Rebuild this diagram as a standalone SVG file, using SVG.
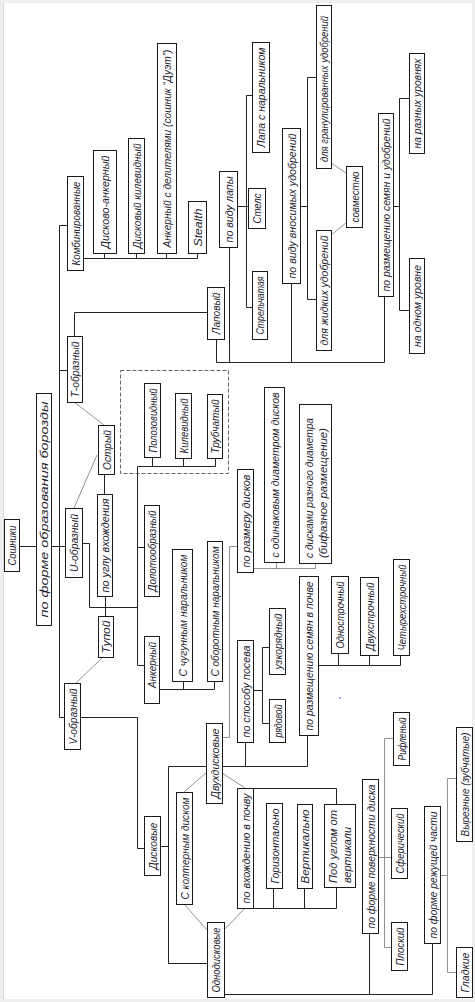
<svg xmlns="http://www.w3.org/2000/svg" width="475" height="1002" viewBox="0 0 475 1002">
<style>
.b{fill:#fff;stroke:#1a1a1a;stroke-width:1}
.t{font-family:"Liberation Sans",Arial,sans-serif;font-style:italic;font-size:10.5px;fill:#1c1c2c;text-anchor:middle;dominant-baseline:central}
.s{font-family:"Liberation Sans",Arial,sans-serif;font-style:italic;font-size:10.5px;fill:#1c1c2c;text-anchor:start;dominant-baseline:central}
.c{fill:none;stroke:#222;stroke-width:1}
.g{fill:none;stroke:#777;stroke-width:0.8}
.d{fill:none;stroke:#666;stroke-width:1;stroke-dasharray:4 2}
</style>
<rect x="0" y="0" width="475" height="1002" fill="#efefef"/>
<rect x="3" y="3" width="469" height="996" fill="#fff"/>
<line x1="3.5" y1="3" x2="3.5" y2="999" stroke="#d8d8d8"/>
<g id="connectors">
<path class="c" d="M19.5 546.5H36M51 546.5H65"/>
<path class="c" d="M59.5 225.5V717.5M59.5 225.5H67M59.5 370.5H67M59.5 717.5H64M80 717.5H137.5V848.5H144"/>
<path class="c" d="M83 258.5H197.5M104.5 253V258.5M136.5 253V258.5M166.5 253V258.5M197.5 253V258.5"/>
<path class="c" d="M74.5 336V312.5H207"/>
<path class="c" d="M216.5 339V362.5H384.5V296M229.5 247V362.5M291.5 283V362.5"/>
<path class="c" d="M237 206.5H248M246.5 95.5V307.5M246.5 95.5H252M246.5 307.5H252"/>
<path class="c" d="M300 206.5H307.5M307.5 77.5V299.5M307.5 77.5H316M307.5 299.5H316"/>
<path class="g" d="M331 163L346 173M331 235L346 223"/>
<path class="c" d="M393 206.5H399.5M399.5 98.5V310.5M399.5 98.5H409M399.5 310.5H409"/>
<path class="g" d="M74 402L104 425M97 455L74 508M103 657L76 683"/>
<path class="c" d="M104.5 474V494M105.5 596V616"/>
<path class="c" d="M82 543.5H89.5V607.5H137.5"/>
<path class="c" d="M137.5 466.5V665.5M137.5 547.5H144M137.5 665.5H144"/>
<path class="c" d="M137.5 466.5H215.5M152.5 457V466.5M183.5 458V466.5M215.5 458V466.5"/>
<path class="c" d="M159 689.5H214.5M183.5 681V689.5M214.5 681V689.5"/>
<path class="c" d="M160 846.5H168.5M168.5 766.5V963.5M168.5 766.5H206M222 766.5H307.5M245.5 742V766.5M307.5 735V766.5M168.5 963.5H207"/>
<path class="g" d="M222 737.5H229.5V546.5H237"/>
<path class="g" d="M253 568.5H315.5M276.5 562V568.5M315.5 563V568.5"/>
<path class="c" d="M253 690.5H262.5M262.5 647.5V723.5M262.5 647.5H269M262.5 723.5H269"/>
<path class="c" d="M318 665.5H400.5M338.5 653V665.5M369.5 655V665.5M400.5 655V665.5"/>
<path class="g" d="M184 792L206 773M184 904L207 930M222 773L245 788M224 930L245 908"/>
<path class="c" d="M253 788.5H336.5V804M253 908.5H336.5V887M273.5 888V908.5M304.5 888V908.5"/>
<path class="c" d="M224 994.5H432.5M369.5 933V994.5M432.5 943V994.5"/>
<path class="g" d="M378 857.5H391M384.5 738.5V947.5M384.5 738.5H393M384.5 947.5H391"/>
<path class="g" d="M440 875.5H447.5M447.5 778.5V972.5M447.5 778.5H456M447.5 972.5H456"/>
<rect class="d" x="120.5" y="370.5" width="108" height="103"/>
<circle cx="340" cy="698" r="0.8" fill="#33f"/>
</g>
<g id="n1"><rect class="b" x="4.5" y="519.5" width="15" height="52"/><text class="t" x="12" y="545.5" transform="rotate(-90 12 545.5)" textLength="40" lengthAdjust="spacingAndGlyphs">Сошники</text></g>
<g id="n2"><rect class="b" x="36.5" y="393.5" width="15" height="232"/><text class="t" x="44" y="509.5" transform="rotate(-90 44 509.5)" textLength="216" lengthAdjust="spacingAndGlyphs">по форме образования борозды</text></g>
<g id="n3"><rect class="b" x="67.5" y="176.5" width="16" height="94"/><text class="t" x="75.5" y="223.5" transform="rotate(-90 75.5 223.5)" textLength="84" lengthAdjust="spacingAndGlyphs">Комбинированные</text></g>
<g id="n4"><rect class="b" x="67.5" y="336.5" width="15" height="66"/><text class="t" x="75" y="369.5" transform="rotate(-90 75 369.5)" textLength="56" lengthAdjust="spacingAndGlyphs">Т-образный</text></g>
<g id="n5"><rect class="b" x="65.5" y="508.5" width="17" height="69"/><text class="t" x="74" y="543" transform="rotate(-90 74 543)" textLength="58" lengthAdjust="spacingAndGlyphs">U-образный</text></g>
<g id="n6"><rect class="b" x="64.5" y="683.5" width="16" height="66"/><text class="t" x="72.5" y="716.5" transform="rotate(-90 72.5 716.5)" textLength="56" lengthAdjust="spacingAndGlyphs">V-образный</text></g>
<g id="n7"><rect class="b" x="93.5" y="150.5" width="23" height="103"/><text class="t" x="105" y="202" transform="rotate(-90 105 202)" textLength="93" lengthAdjust="spacingAndGlyphs">Дисково-анкерный</text></g>
<g id="n8"><rect class="b" x="128.5" y="138.5" width="16" height="115"/><text class="t" x="136.5" y="196" transform="rotate(-90 136.5 196)" textLength="105" lengthAdjust="spacingAndGlyphs">Дисковый килевидный</text></g>
<g id="n9"><rect class="b" x="157.5" y="43.5" width="19" height="210"/><text class="t" x="167" y="148.5" transform="rotate(-90 167 148.5)" textLength="198" lengthAdjust="spacingAndGlyphs">Анкерный с делителями (сошник “Дуэт”)</text></g>
<g id="n10"><rect class="b" x="188.5" y="201.5" width="18" height="52"/><text class="t" x="197.5" y="227.5" transform="rotate(-90 197.5 227.5)" textLength="38" lengthAdjust="spacingAndGlyphs">Stealth</text></g>
<g id="n11"><rect class="b" x="98.5" y="425.5" width="16" height="49"/><text class="t" x="106.5" y="450" transform="rotate(-90 106.5 450)" textLength="40" lengthAdjust="spacingAndGlyphs">Острый</text></g>
<g id="n12"><rect class="b" x="97.5" y="494.5" width="15" height="102"/><text class="t" x="105" y="545.5" transform="rotate(-90 105 545.5)" textLength="94" lengthAdjust="spacingAndGlyphs">по углу вхождения</text></g>
<g id="n13"><rect class="b" x="98.5" y="616.5" width="15" height="41"/><text class="t" x="106" y="637" transform="rotate(-90 106 637)" textLength="33" lengthAdjust="spacingAndGlyphs">Тупой</text></g>
<g id="n14"><rect class="b" x="144.5" y="505.5" width="15" height="91"/><text class="t" x="152" y="551" transform="rotate(-90 152 551)" textLength="81" lengthAdjust="spacingAndGlyphs">Долотообразный</text></g>
<g id="n15"><rect class="b" x="144.5" y="636.5" width="15" height="67"/><text class="t" x="152" y="665" transform="rotate(-90 152 665)" textLength="46" lengthAdjust="spacingAndGlyphs">Анкерный</text></g>
<g id="n16"><rect class="b" x="172.5" y="549.5" width="20" height="132"/><text class="t" x="182.5" y="615.5" transform="rotate(-90 182.5 615.5)" textLength="122" lengthAdjust="spacingAndGlyphs">С чугунным наральником</text></g>
<g id="n17"><rect class="b" x="207.5" y="541.5" width="15" height="140"/><text class="t" x="215" y="611.5" transform="rotate(-90 215 611.5)" textLength="130" lengthAdjust="spacingAndGlyphs">С оборотным наральником</text></g>
<g id="n18"><rect class="b" x="144.5" y="816.5" width="16" height="59"/><text class="t" x="152.5" y="846" transform="rotate(-90 152.5 846)" textLength="47" lengthAdjust="spacingAndGlyphs">Дисковые</text></g>
<g id="n19"><rect class="b" x="144.5" y="383.5" width="16" height="74"/><text class="t" x="152.5" y="420.5" transform="rotate(-90 152.5 420.5)" textLength="64" lengthAdjust="spacingAndGlyphs">Полозовидный</text></g>
<g id="n20"><rect class="b" x="175.5" y="393.5" width="16" height="65"/><text class="t" x="183.5" y="426" transform="rotate(-90 183.5 426)" textLength="55" lengthAdjust="spacingAndGlyphs">Килевидный</text></g>
<g id="n21"><rect class="b" x="207.5" y="394.5" width="15" height="64"/><text class="t" x="215" y="426.5" transform="rotate(-90 215 426.5)" textLength="54" lengthAdjust="spacingAndGlyphs">Трубчатый</text></g>
<g id="n23"><rect class="b" x="207.5" y="287.5" width="17" height="52"/><text class="t" x="216" y="313.5" transform="rotate(-90 216 313.5)" textLength="42" lengthAdjust="spacingAndGlyphs">Лаповый</text></g>
<g id="n24"><rect class="b" x="219.5" y="171.5" width="18" height="76"/><text class="t" x="228.5" y="209.5" transform="rotate(-90 228.5 209.5)" textLength="66" lengthAdjust="spacingAndGlyphs">по виду лапы</text></g>
<g id="n25"><rect class="b" x="252.5" y="42.5" width="17" height="110"/><text class="t" x="261" y="97.5" transform="rotate(-90 261 97.5)" textLength="100" lengthAdjust="spacingAndGlyphs">Лапа с наральником</text></g>
<g id="n26"><rect class="b" x="248.5" y="188.5" width="17" height="40"/><text class="t" x="257" y="208.5" transform="rotate(-90 257 208.5)" textLength="30" lengthAdjust="spacingAndGlyphs">Стелс</text></g>
<g id="n27"><rect class="b" x="252.5" y="271.5" width="15" height="68"/><text class="t" x="260" y="305.5" transform="rotate(-90 260 305.5)" textLength="58" lengthAdjust="spacingAndGlyphs">Стрельчатая</text></g>
<g id="n28"><rect class="b" x="282.5" y="128.5" width="18" height="155"/><text class="t" x="291.5" y="206" transform="rotate(-90 291.5 206)" textLength="145" lengthAdjust="spacingAndGlyphs">по виду вносимых удобрений</text></g>
<g id="n29"><rect class="b" x="316.5" y="5.5" width="15" height="163"/><text class="t" x="324" y="89" transform="rotate(-90 324 89)" textLength="146" lengthAdjust="spacingAndGlyphs">для гранулированных удобрений</text></g>
<g id="n30"><rect class="b" x="316.5" y="230.5" width="15" height="120"/><text class="t" x="324" y="290.5" transform="rotate(-90 324 290.5)" textLength="110" lengthAdjust="spacingAndGlyphs">для жидких удобрений</text></g>
<g id="n31"><rect class="b" x="346.5" y="166.5" width="16" height="61"/><text class="t" x="354.5" y="197" transform="rotate(-90 354.5 197)" textLength="51" lengthAdjust="spacingAndGlyphs">совместно</text></g>
<g id="n32"><rect class="b" x="378.5" y="113.5" width="15" height="183"/><text class="t" x="386" y="205" transform="rotate(-90 386 205)" textLength="173" lengthAdjust="spacingAndGlyphs">по размещению семян и удобрений</text></g>
<g id="n33"><rect class="b" x="409.5" y="53.5" width="15" height="100"/><text class="t" x="417" y="103.5" transform="rotate(-90 417 103.5)" textLength="90" lengthAdjust="spacingAndGlyphs">на разных уровнях</text></g>
<g id="n34"><rect class="b" x="409.5" y="258.5" width="15" height="95"/><text class="t" x="417" y="306" transform="rotate(-90 417 306)" textLength="82" lengthAdjust="spacingAndGlyphs">на одном уровне</text></g>
<g id="n35"><rect class="b" x="237.5" y="469.5" width="16" height="103"/><text class="t" x="245.5" y="521" transform="rotate(-90 245.5 521)" textLength="93" lengthAdjust="spacingAndGlyphs">по размеру дисков</text></g>
<g id="n36"><rect class="b" x="264.5" y="387.5" width="20" height="175"/><text class="t" x="274.5" y="475" transform="rotate(-90 274.5 475)" textLength="165" lengthAdjust="spacingAndGlyphs">с одинаковым диаметром дисков</text></g>
<g id="n37"><rect class="b" x="299.5" y="404.5" width="32" height="159"/><text class="s" x="308.5" y="558" transform="rotate(-90 308.5 558)" textLength="140" lengthAdjust="spacingAndGlyphs">с дисками разного диаметра</text><text class="s" x="322.5" y="558" transform="rotate(-90 322.5 558)" textLength="130" lengthAdjust="spacingAndGlyphs">(бифазное размещение)</text></g>
<g id="n38"><rect class="b" x="237.5" y="640.5" width="16" height="102"/><text class="t" x="245.5" y="691.5" transform="rotate(-90 245.5 691.5)" textLength="92" lengthAdjust="spacingAndGlyphs">по способу посева</text></g>
<g id="n39"><rect class="b" x="269.5" y="699.5" width="16" height="43"/><text class="t" x="277.5" y="721" transform="rotate(-90 277.5 721)" textLength="33" lengthAdjust="spacingAndGlyphs">рядовой</text></g>
<g id="n40"><rect class="b" x="269.5" y="608.5" width="16" height="66"/><text class="t" x="277.5" y="641.5" transform="rotate(-90 277.5 641.5)" textLength="56" lengthAdjust="spacingAndGlyphs">узкорядный</text></g>
<g id="n41"><rect class="b" x="299.5" y="576.5" width="19" height="159"/><text class="t" x="309" y="656" transform="rotate(-90 309 656)" textLength="149" lengthAdjust="spacingAndGlyphs">по размещению семян в почве</text></g>
<g id="n42"><rect class="b" x="331.5" y="576.5" width="17" height="77"/><text class="t" x="340" y="615" transform="rotate(-90 340 615)" textLength="67" lengthAdjust="spacingAndGlyphs">Однострочный</text></g>
<g id="n43"><rect class="b" x="360.5" y="577.5" width="18" height="78"/><text class="t" x="369.5" y="616.5" transform="rotate(-90 369.5 616.5)" textLength="68" lengthAdjust="spacingAndGlyphs">Двухстрочный</text></g>
<g id="n44"><rect class="b" x="393.5" y="559.5" width="16" height="96"/><text class="t" x="401.5" y="607.5" transform="rotate(-90 401.5 607.5)" textLength="86" lengthAdjust="spacingAndGlyphs">Четырехстрочный</text></g>
<g id="n45"><rect class="b" x="206.5" y="723.5" width="16" height="80"/><text class="t" x="214.5" y="763.5" transform="rotate(-90 214.5 763.5)" textLength="70" lengthAdjust="spacingAndGlyphs">Двухдисковые</text></g>
<g id="n46"><rect class="b" x="207.5" y="922.5" width="17" height="75"/><text class="t" x="216" y="960" transform="rotate(-90 216 960)" textLength="65" lengthAdjust="spacingAndGlyphs">Однодисковые</text></g>
<g id="n47"><rect class="b" x="176.5" y="792.5" width="16" height="112"/><text class="t" x="184.5" y="848.5" transform="rotate(-90 184.5 848.5)" textLength="102" lengthAdjust="spacingAndGlyphs">С колтерным диском</text></g>
<g id="n48"><rect class="b" x="237.5" y="788.5" width="16" height="120"/><text class="t" x="245.5" y="848.5" transform="rotate(-90 245.5 848.5)" textLength="110" lengthAdjust="spacingAndGlyphs">по вхождению в почву</text></g>
<g id="n49"><rect class="b" x="266.5" y="803.5" width="16" height="85"/><text class="t" x="274.5" y="846" transform="rotate(-90 274.5 846)" textLength="75" lengthAdjust="spacingAndGlyphs">Горизонтально</text></g>
<g id="n50"><rect class="b" x="297.5" y="804.5" width="15" height="84"/><text class="t" x="305" y="846.5" transform="rotate(-90 305 846.5)" textLength="74" lengthAdjust="spacingAndGlyphs">Вертикально</text></g>
<g id="n51"><rect class="b" x="324.5" y="804.5" width="31" height="83"/><text class="s" x="333" y="883" transform="rotate(-90 333 883)" textLength="73" lengthAdjust="spacingAndGlyphs">Под углом от</text><text class="s" x="347" y="883" transform="rotate(-90 347 883)" textLength="56" lengthAdjust="spacingAndGlyphs">вертикали</text></g>
<g id="n52"><rect class="b" x="362.5" y="779.5" width="16" height="154"/><text class="t" x="370.5" y="856.5" transform="rotate(-90 370.5 856.5)" textLength="144" lengthAdjust="spacingAndGlyphs">по форме поверхности диска</text></g>
<g id="n53"><rect class="b" x="393.5" y="712.5" width="16" height="53"/><text class="t" x="401.5" y="739" transform="rotate(-90 401.5 739)" textLength="43" lengthAdjust="spacingAndGlyphs">Рифленый</text></g>
<g id="n54"><rect class="b" x="391.5" y="808.5" width="16" height="70"/><text class="t" x="399.5" y="843.5" transform="rotate(-90 399.5 843.5)" textLength="60" lengthAdjust="spacingAndGlyphs">Сферический</text></g>
<g id="n55"><rect class="b" x="391.5" y="922.5" width="16" height="48"/><text class="t" x="399.5" y="946.5" transform="rotate(-90 399.5 946.5)" textLength="38" lengthAdjust="spacingAndGlyphs">Плоский</text></g>
<g id="n56"><rect class="b" x="424.5" y="806.5" width="16" height="137"/><text class="t" x="432.5" y="875" transform="rotate(-90 432.5 875)" textLength="127" lengthAdjust="spacingAndGlyphs">по форме режущей части</text></g>
<g id="n57"><rect class="b" x="456.5" y="727.5" width="16" height="114"/><text class="t" x="464.5" y="784.5" transform="rotate(-90 464.5 784.5)" textLength="104" lengthAdjust="spacingAndGlyphs">Вырезные (зубчатые)</text></g>
<g id="n58"><rect class="b" x="456.5" y="947.5" width="16" height="50"/><text class="t" x="464.5" y="972.5" transform="rotate(-90 464.5 972.5)" textLength="40" lengthAdjust="spacingAndGlyphs">Гладкие</text></g>
</svg>
